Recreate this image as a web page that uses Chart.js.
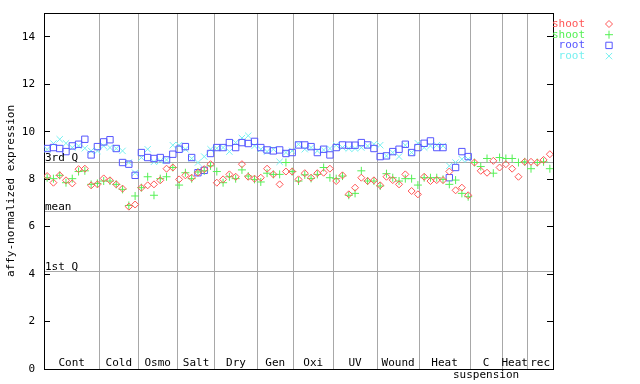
<!DOCTYPE html>
<html>
<head>
<meta charset="utf-8">
<script src="https://cdn.jsdelivr.net/npm/chart.js@4.4.0/dist/chart.umd.min.js"></script>
<style>
html, body { margin: 0; padding: 0; background: #fff; }
</style>
</head>
<body>
<canvas id="myChart" width="640" height="384"></canvas>
<script>
// affy-normalized expression per sample, shoot and root replicates

var shootRep1 = [
    8.13, 7.85, 8.16, 7.95, 7.82, 8.42, 8.44, 7.74, 7.78,
    8.03, 7.95, 7.78, 7.60, 6.84, 6.93,
    7.64, 7.74, 7.78, 7.95, 8.44, 8.49,
    7.99, 8.16, 8.06, 8.27, 8.42, 8.63,
    7.85, 7.99, 8.20, 8.10, 8.63, 8.10, 8.02,
    8.06, 8.44, 8.20, 7.78, 8.32, 8.32,
    7.99, 8.25, 8.06, 8.25, 8.27, 8.44,
    7.92, 8.16, 7.36, 7.64, 8.06, 7.92, 7.95,
    7.74, 8.10, 7.96, 7.78, 8.20, 7.50, 7.36,
    8.10, 7.92, 7.96, 7.96, 8.32, 7.53, 7.64, 7.32,
    8.70, 8.35, 8.27, 8.77, 8.49,
    8.63, 8.44, 8.10, 8.73,
    8.73, 8.70, 8.81, 9.05
];
var shootRep2 = [
    8.06, 8.02, 8.16, 7.85, 8.02, 8.32, 8.35, 7.78, 7.82,
    7.92, 7.92, 7.78, 7.57, 6.89, 7.29,
    7.64, 8.10, 7.32, 8.02, 8.10, 8.49,
    7.75, 8.27, 8.02, 8.30, 8.35, 8.56,
    8.32, 7.85, 8.10, 8.02, 8.39, 8.13, 7.99,
    7.88, 8.25, 8.20, 8.20, 8.70, 8.32,
    7.92, 8.18, 8.03, 8.20, 8.49, 8.06,
    8.02, 8.13, 7.32, 7.40, 8.35, 7.92, 7.92,
    7.71, 8.23, 8.06, 7.92, 8.02, 8.02, 7.75,
    8.06, 8.06, 8.06, 7.99, 7.78, 7.96, 7.40, 7.26,
    8.70, 8.53, 8.87, 8.25, 8.91,
    8.87, 8.87, 8.70, 8.73,
    8.44, 8.70, 8.73, 8.44
];
var rootRep1 = [
    9.29, 9.33, 9.29, 9.16, 9.40, 9.47, 9.68, 9.02, 9.37,
    9.57, 9.66, 9.29, 8.70, 8.63, 8.16,
    9.12, 8.91, 8.87, 8.91, 8.81, 9.05,
    9.26, 9.37, 8.91, 8.27, 8.37, 9.08,
    9.33, 9.33, 9.54, 9.33, 9.54, 9.50, 9.59,
    9.33, 9.23, 9.19, 9.23, 9.08, 9.12,
    9.44, 9.44, 9.37, 9.12, 9.26, 9.02,
    9.33, 9.44, 9.43, 9.43, 9.54, 9.44, 9.29,
    8.95, 8.98, 9.16, 9.26, 9.47, 9.12, 9.33,
    9.51, 9.61, 9.33, 9.33, 8.06, 8.49, 9.16, 8.95
];
var rootRep2 = [
    9.25, 9.50, 9.68, 9.51, 9.33, 9.40, 9.30, 9.19, 9.19,
    9.40, 9.33, 9.29, 9.19, 8.70, 8.27,
    8.91, 9.26, 8.73, 8.77, 8.81, 9.43,
    9.43, 9.26, 8.87, 8.70, 8.95, 9.26,
    9.30, 9.33, 9.16, 9.54, 9.73, 9.83, 9.40,
    9.26, 9.16, 9.26, 8.73, 9.12, 9.19,
    9.47, 9.26, 9.33, 9.19, 9.23, 9.29,
    9.43, 9.33, 9.29, 9.29, 9.33, 9.40, 9.47,
    9.43, 8.98, 9.12, 8.95, 9.43, 9.12, 9.51,
    9.33, 9.40, 9.43, 9.40, 8.56, 8.70, 8.84, 8.84
];

var seriesNames = ['shoot', 'shoot', 'root', 'root'];
var seriesColors = ['#ff5555', '#55f055', '#5555ff', '#77f0f0'];
var seriesStyles = ['rectRot', 'cross', 'rect', 'crossRot'];
var seriesRadius = [3.5, 4, 4.5, 4.5];

var groupNames = ['Cont', 'Cold', 'Osmo', 'Salt', 'Dry', 'Gen', 'Oxi', 'UV', 'Wound', 'Heat', 'C\nsuspension', 'Heat', 'rec'];
var groupBounds = [-0.5, 8.3, 14.5, 20.7, 26.7, 33.4, 39.2, 45.5, 52.5, 59.2, 67.3, 72.4, 76.4, 80.5];

var yTicks = [0, 2, 4, 6, 8, 10, 12, 14];
var quartileValues = [8.70, 6.63, 4.09];
var quartileNames = ['3rd Q', 'mean', '1st Q'];

var monoFont = '"DejaVu Sans Mono", "Liberation Mono", monospace';
var gridGrey = '#a8a8a8';

function toPoints(values) {
    return values.map(function(v, i) { return {x: i, y: v}; });
}

// keep tick-label overhang from pushing the plot area in
function noOverhang(scale) {
    scale.paddingTop = 0;
    scale.paddingBottom = 0;
    scale.paddingLeft = 0;
    scale.paddingRight = 0;
}

var allSeries = [shootRep1, shootRep2, rootRep1, rootRep2];
var datasets = [];
for (var s = 0; s < allSeries.length; s++) {
    datasets.push({
        label: seriesNames[s],
        data: toPoints(allSeries[s]),
        showLine: false,
        pointStyle: seriesStyles[s],
        pointRadius: seriesRadius[s],
        pointBorderWidth: 1,
        borderColor: seriesColors[s],
        backgroundColor: 'rgba(0,0,0,0)'
    });
}

// group names, quartile names and the legend are drawn on top of the chart
var overlayText = {
    id: 'overlayText',
    afterDraw: function(chart) {
        var ctx = chart.ctx;
        var xs = chart.scales.x;
        var ys = chart.scales.y;
        var area = chart.chartArea;
        ctx.save();
        ctx.font = '11px ' + monoFont;
        ctx.fillStyle = '#000';
        ctx.textBaseline = 'alphabetic';

        ctx.textAlign = 'center';
        for (var g = 0; g < groupNames.length; g++) {
            var cx = (xs.getPixelForValue(groupBounds[g]) + xs.getPixelForValue(groupBounds[g + 1])) / 2;
            var lines = groupNames[g].split('\n');
            for (var l = 0; l < lines.length; l++) {
                ctx.fillText(lines[l], cx, area.bottom - 3 + l * 12);
            }
        }

        ctx.textAlign = 'left';
        for (var q = 0; q < quartileValues.length; q++) {
            ctx.fillText(quartileNames[q], area.left + 1, ys.getPixelForValue(quartileValues[q]) - 2);
        }

        // legend
        ctx.textAlign = 'right';
        ctx.textBaseline = 'middle';
        for (var i = 0; i < seriesNames.length; i++) {
            var ly = 24 + i * 10.7;
            ctx.fillStyle = seriesColors[i];
            ctx.fillText(seriesNames[i], 585, ly);
            ctx.strokeStyle = seriesColors[i];
            ctx.fillStyle = 'rgba(0,0,0,0)';
            ctx.lineWidth = 1;
            Chart.helpers.drawPoint(ctx, {pointStyle: seriesStyles[i], radius: seriesRadius[i], rotation: 0, borderWidth: 1}, 609, ly);
        }
        ctx.restore();
    }
};

var config = {
    type: 'scatter',
    data: { datasets: datasets },
    options: {
        responsive: false,
        animation: false,
        events: [],
        layout: { padding: { left: 0, top: 13, right: 87, bottom: 0 } },
        plugins: {
            legend: { display: false },
            tooltip: { enabled: false }
        },
        scales: {
            x: {
                type: 'linear',
                position: 'bottom',
                min: groupBounds[0],
                max: groupBounds[groupBounds.length - 1],
                afterBuildTicks: function(scale) {
                    scale.ticks = groupBounds.slice(1, -1).map(function(v) { return {value: v}; });
                },
                ticks: { display: false },
                grid: { color: gridGrey, drawTicks: false, lineWidth: 1 },
                border: { color: '#000', width: 1 },
                afterFit: function(scale) { scale.height = 15; noOverhang(scale); }
            },
            xTop: {
                type: 'linear',
                position: 'top',
                min: groupBounds[0],
                max: groupBounds[groupBounds.length - 1],
                ticks: { display: false },
                grid: { drawOnChartArea: false, drawTicks: false },
                border: { color: '#000', width: 1 },
                afterFit: function(scale) { scale.height = 0; noOverhang(scale); }
            },
            y: {
                position: 'left',
                min: 0,
                max: 15,
                afterBuildTicks: function(scale) {
                    scale.ticks = yTicks.map(function(v) { return {value: v}; });
                },
                ticks: { color: '#000', padding: 15, font: { family: monoFont, size: 11 } },
                grid: { drawOnChartArea: false, drawTicks: true, tickLength: -6, color: '#000' },
                border: { color: '#000', width: 1 },
                title: {
                    display: true,
                    text: 'affy-normalized expression',
                    color: '#000',
                    font: { family: monoFont, size: 11 },
                    padding: { top: 5, bottom: 0 }
                },
                afterFit: function(scale) { scale.width = 44; noOverhang(scale); }
            },
            yQuart: {
                position: 'left',
                min: 0,
                max: 15,
                afterBuildTicks: function(scale) {
                    scale.ticks = quartileValues.map(function(v) { return {value: v}; });
                },
                ticks: { display: false },
                grid: { color: gridGrey, drawTicks: false },
                border: { display: false },
                afterFit: function(scale) { scale.width = 0; noOverhang(scale); }
            },
            yRight: {
                position: 'right',
                min: 0,
                max: 15,
                afterBuildTicks: function(scale) {
                    scale.ticks = yTicks.map(function(v) { return {value: v}; });
                },
                ticks: { display: false },
                grid: { drawOnChartArea: false, drawTicks: true, tickLength: -6, color: '#000' },
                border: { color: '#000', width: 1 },
                afterFit: function(scale) { scale.width = 0; noOverhang(scale); }
            }
        }
    },
    plugins: [overlayText]
};

window.onload = function() {
    var ctx = document.getElementById('myChart').getContext('2d');
    window.myScatter = new Chart(ctx, config);
};
</script>
</body>
</html>
